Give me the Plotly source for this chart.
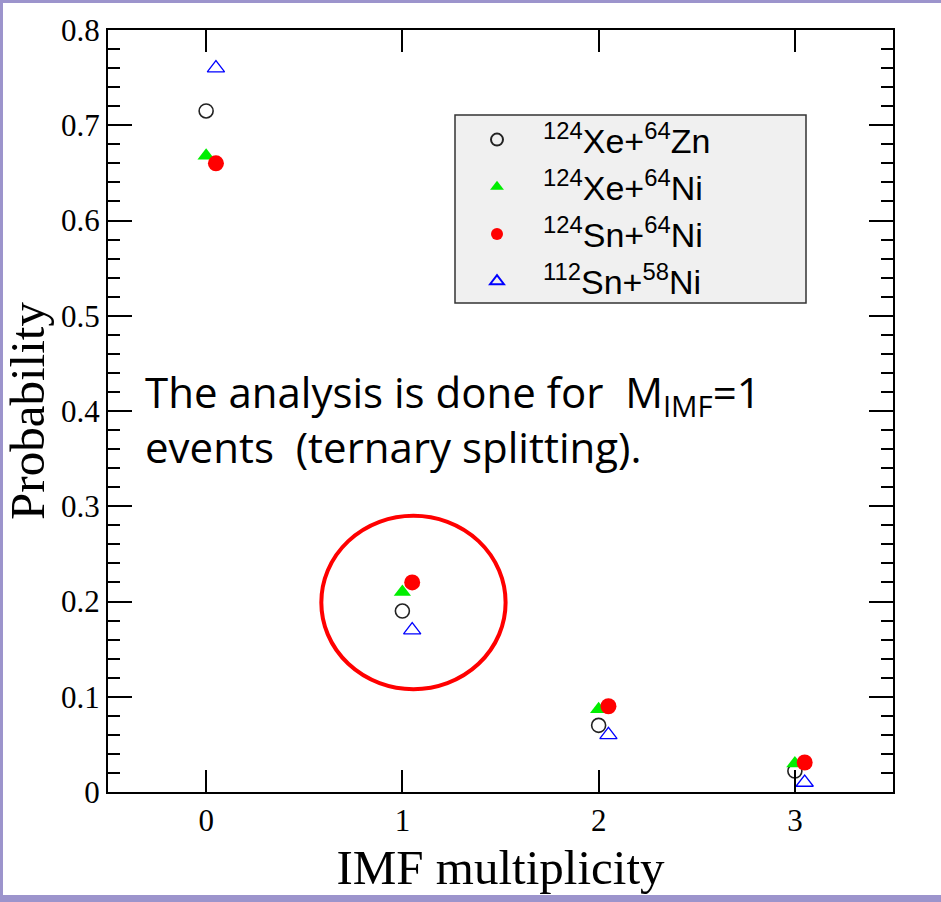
import plotly.graph_objects as go

# ---- data ----
names = ["<sup>124</sup>Xe+<sup>64</sup>Zn", "<sup>124</sup>Xe+<sup>64</sup>Ni",
         "<sup>124</sup>Sn+<sup>64</sup>Ni", "<sup>112</sup>Sn+<sup>58</sup>Ni"]
x_xezn = [0, 1, 2, 3]
y_xezn = [0.715, 0.19, 0.07, 0.022]
x_xeni = [0, 1, 2, 3]
y_xeni = [0.668, 0.21, 0.087, 0.03]
x_snni = [0.05, 1.05, 2.05, 3.05]
y_snni = [0.66, 0.22, 0.09, 0.031]
x_sn112 = [0.05, 1.05, 2.05, 3.05]
y_sn112 = [0.76, 0.17, 0.06, 0.01]
xticks = [0, 1, 2, 3]
yticks = [0, 0.1, 0.2, 0.3, 0.4, 0.5, 0.6, 0.7, 0.8]
ytick_text = ["0", "0.1", "0.2", "0.3", "0.4", "0.5", "0.6", "0.7", "0.8"]

fig = go.Figure()
fig.add_trace(go.Scatter(x=x_xezn, y=y_xezn, mode="markers", name=names[0],
    marker=dict(symbol="circle-open", size=14, color="#222", line=dict(width=1.6))))
fig.add_trace(go.Scatter(x=x_xeni, y=y_xeni, mode="markers", name=names[1],
    marker=dict(symbol="triangle-up", size=15, color="#00ee00", line=dict(width=0))))
fig.add_trace(go.Scatter(x=x_snni, y=y_snni, mode="markers", name=names[2],
    marker=dict(symbol="circle", size=16, color="#ff0000", line=dict(width=0))))
fig.add_trace(go.Scatter(x=x_sn112, y=y_sn112, mode="markers", name=names[3],
    marker=dict(symbol="triangle-up-open", size=15, color="#0000ff", line=dict(width=1.3))))

L, R, T, B = 108, 48, 30, 110
W, H = 941, 902
pw, ph = W - L - R, H - T - B

def px(xp):
    return (xp - L) / pw

def py(yp):
    return (H - B - yp) / ph

frame = "#9c94cc"
shapes = [
    # purple slide frame (left, top, bottom)
    dict(type="rect", xref="paper", yref="paper", layer="below",
         x0=px(-5), x1=px(3), y0=py(H + 5), y1=py(-5), fillcolor=frame, line=dict(width=0)),
    dict(type="rect", xref="paper", yref="paper", layer="below",
         x0=px(-5), x1=px(W + 5), y0=py(3), y1=py(-5), fillcolor=frame, line=dict(width=0)),
    dict(type="rect", xref="paper", yref="paper", layer="below",
         x0=px(-5), x1=px(W + 5), y0=py(H + 5), y1=py(895), fillcolor=frame, line=dict(width=0)),
    # legend box
    dict(type="rect", xref="paper", yref="paper", layer="above",
         x0=px(455), x1=px(806), y0=py(303), y1=py(115),
         fillcolor="#f0f0f0", line=dict(color="#333", width=1.5)),
    # red highlight circle
    dict(type="circle", xref="x", yref="y", layer="above",
         x0=0.587, x1=1.526, y0=0.108, y1=0.29,
         line=dict(color="#ff0000", width=4)),
]

fig.update_layout(
    width=W, height=H,
    margin=dict(l=L, r=R, t=T, b=B, autoexpand=False),
    paper_bgcolor="white",
    plot_bgcolor="white",
    shapes=shapes,
    showlegend=True,
    legend=dict(x=px(451), y=py(111), xanchor="left", yanchor="top",
                bgcolor="rgba(0,0,0,0)", borderwidth=0,
                font=dict(family="Liberation Sans", size=34, color="black"),
                itemsizing="constant", itemwidth=82, tracegroupgap=0),
    annotations=[dict(
        xref="paper", yref="paper", x=px(143), y=py(361), xanchor="left", yanchor="top",
        text="The analysis is done for  M<sub>IMF</sub>=1<br>events  (ternary splitting).",
        showarrow=False, align="left",
        font=dict(family="Open Sans", size=42, color="black"))],
)

fig.update_xaxes(
    range=[-0.5, 3.5], tickvals=xticks, ticktext=[str(v) for v in xticks],
    showline=True, linecolor="black", linewidth=2, mirror="ticks",
    ticks="inside", ticklen=22, tickwidth=1.5, tickcolor="black",
    showgrid=False, zeroline=False,
    tickfont=dict(family="Liberation Serif", size=31, color="black"),
    title=dict(text="IMF multiplicity", standoff=12,
               font=dict(family="Liberation Serif", size=49, color="black")),
)
fig.update_yaxes(
    range=[0, 0.8], tickvals=yticks, ticktext=ytick_text,
    showline=True, linecolor="black", linewidth=2, mirror="ticks",
    ticks="inside", ticklen=24, tickwidth=1.5, tickcolor="black",
    minor=dict(dtick=0.02, ticks="inside", ticklen=12, tickwidth=1.5, tickcolor="black"),
    showgrid=False, zeroline=False,
    tickfont=dict(family="Liberation Serif", size=31, color="black"),
    title=dict(text="Probability", standoff=8,
               font=dict(family="Liberation Serif", size=49, color="black")),
)

fig.write_html("out.html")
